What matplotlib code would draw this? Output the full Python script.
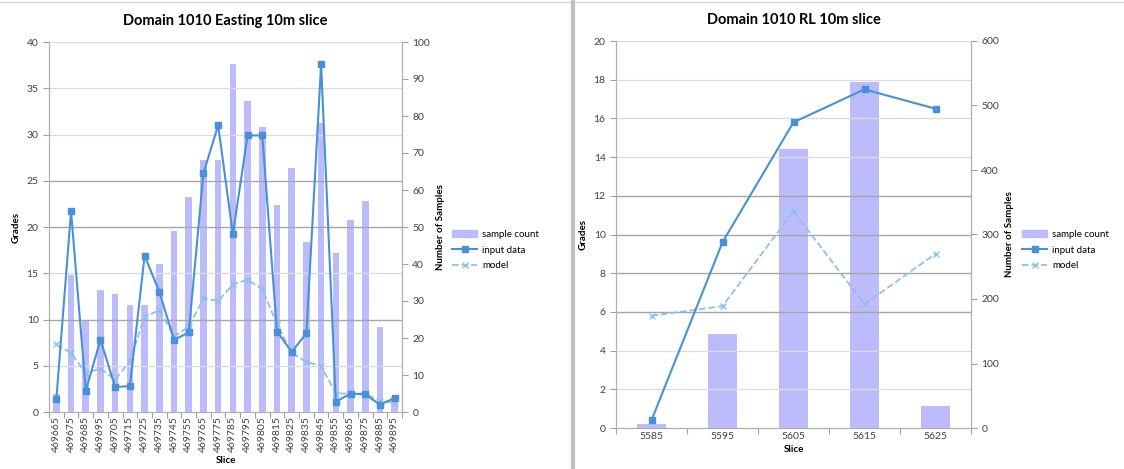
import matplotlib.pyplot as plt
from matplotlib.lines import Line2D
from matplotlib.patches import Patch

# left chart: Easting slices
east_slices = ["469665", "469675", "469685", "469695", "469705", "469715",
               "469725", "469735", "469745", "469755", "469765", "469775",
               "469785", "469795", "469805", "469815", "469825", "469835",
               "469845", "469855", "469865", "469875", "469885", "469895"]
east_count = [5, 37, 25, 33, 32, 29, 29, 40, 49, 58, 68, 68,
              94, 84, 77, 56, 66, 46, 78, 43, 52, 57, 23, 4]
east_input = [1.4, 21.7, 2.3, 7.8, 2.7, 2.8, 16.9, 13.0, 7.8, 8.6, 25.8, 31.0,
              19.2, 29.9, 29.9, 8.7, 6.5, 8.5, 37.6, 1.1, 2.0, 1.9, 0.8, 1.5]
east_model = [7.3, 6.4, 4.2, 4.7, 3.5, 5.5, 10.3, 11.0, 8.2, 9.2, 12.3, 12.0,
              13.8, 14.3, 13.3, 9.5, 6.4, 5.4, 5.0, 2.0, 2.0, 2.0, 1.2, 1.0]

# right chart: RL slices
rl_slices = ["5585", "5595", "5605", "5615", "5625"]
rl_count = [6, 145, 432, 537, 34]
rl_input = [0.4, 9.6, 15.8, 17.5, 16.5]
rl_model = [5.8, 6.3, 11.2, 6.4, 9.0]

BAR = "#bcbcfc"
LINE = "#4a90d6"
MODEL = "#8fc0e8"
GRID = "#dcdcdc"
DARK = "#a6a6a6"
FONT = ["Lato", "DejaVu Sans"]
plt.rcParams["font.family"] = FONT

W, H = 1124, 469
fig = plt.figure(figsize=(W / 100, H / 100), dpi=100)


def chart(rect, title, cats, counts, inp, model, gmax, gstep, smax, sstep,
          width, dark, rot, leg_xy):
    ax2 = fig.add_axes(rect)
    ax = ax2.twinx()
    # keep grades axis on the left, samples on the right
    ax.yaxis.tick_left()
    ax.yaxis.set_label_position("left")
    ax2.yaxis.tick_right()
    ax2.yaxis.set_label_position("right")
    ax.set_zorder(ax2.get_zorder() + 1)
    ax.patch.set_visible(False)

    x = range(len(cats))
    ax2.bar(x, counts, width=width, color=BAR, zorder=2)
    ax2.set_ylim(0, smax)
    ax2.set_yticks(range(0, smax + 1, sstep))

    for g in range(gstep, gmax + 1, gstep):
        ax.axhline(g, color=DARK if g in dark else GRID, lw=1.0, zorder=1)
    ax.plot(x, model, color=MODEL, lw=1.3, ls="--", marker="x", ms=4, zorder=3)
    ax.plot(x, inp, color=LINE, lw=1.5, marker="s", ms=5, zorder=4)
    ax.set_ylim(0, gmax)
    ax.set_yticks(range(0, gmax + 1, gstep))
    ax.set_xlim(-0.5, len(cats) - 0.5)

    ax2.set_xticks([i - 0.5 for i in range(len(cats) + 1)])
    ax2.set_xticklabels([])
    ax2.set_xticks(list(x), minor=True)
    ax2.set_xticklabels(cats, minor=True, rotation=rot, fontsize=7.5, color="#404040")
    ax2.tick_params(axis="x", which="major", length=4, color="#a0a0a0")
    ax2.tick_params(axis="x", which="minor", length=0, pad=3)
    ax.tick_params(axis="x", bottom=False, labelbottom=False)

    for a in (ax, ax2):
        for s in a.spines.values():
            s.set_color("#b0b0b0")
        a.spines["top"].set_visible(False)
        a.tick_params(axis="y", labelsize=7.5, colors="#404040", length=4)
        a.tick_params(axis="y", color="#a0a0a0")

    ax.set_ylabel("Grades", fontsize=7, fontweight="bold", labelpad=4)
    ax2.set_ylabel("Number of Samples", fontsize=7, fontweight="bold", labelpad=4)
    ax2.set_xlabel("Slice", fontsize=7, fontweight="bold", labelpad=3)
    ax2.set_title(title, fontsize=10.5, fontweight="bold", pad=12)

    handles = [Patch(color=BAR),
               Line2D([], [], color=LINE, lw=1.5, marker="s", ms=5),
               Line2D([], [], color=MODEL, lw=1.3, ls="--", marker="x", ms=4)]
    fig.legend(handles, ["sample count", "input data", "model"],
               loc="upper left", bbox_to_anchor=leg_xy, frameon=False,
               fontsize=7, handlelength=2.6, labelspacing=0.7,
               handletextpad=0.5, borderaxespad=0)


chart([49 / W, 57 / H, 353 / W, 370 / H], "Domain 1010 Easting 10m slice",
      east_slices, east_count, east_input, east_model, 40, 5, 100, 10,
      0.45, (10, 20, 25), 90, (448 / W, 1 - 226 / H))
chart([616 / W, 41 / H, 355 / W, 387 / H], "Domain 1010 RL 10m slice",
      rl_slices, rl_count, rl_input, rl_model, 20, 2, 600, 100,
      0.4, (6, 8, 10, 12), 0, (1018 / W, 1 - 226 / H))

# screenshot frame and separator between the two charts
fig.add_artist(Line2D([0, 1], [1 - 2 / H, 1 - 2 / H], color="#d8d8d8", lw=1))
fig.add_artist(Line2D([573 / W, 573 / W], [0, 1 - 2 / H], color="#c0c0c0", lw=3))

fig.savefig("out.png", dpi=100)
